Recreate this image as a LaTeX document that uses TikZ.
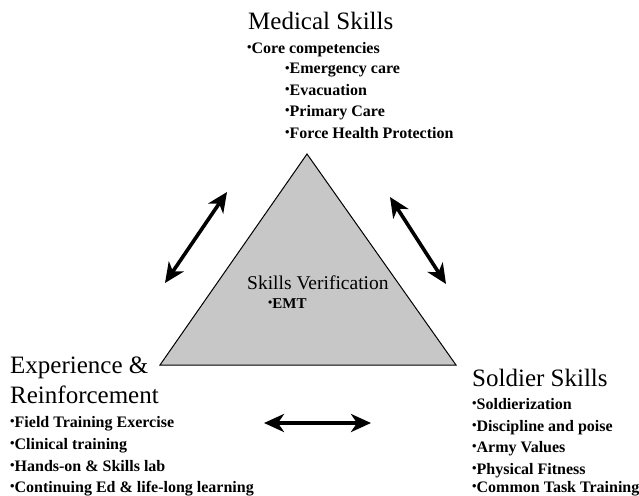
\documentclass[tikz,border=0pt]{standalone}
\usepackage{fontspec}
\usepackage{graphicx}
\setmainfont{Liberation Serif}
\usetikzlibrary{arrows.meta}
\newcommand{\bul}{\raisebox{0.1em}{\scalebox{0.8}{•}}}
\tikzset{
  head/.style={anchor=base west,inner sep=0pt,font=\fontsize{25}{25}\selectfont},
  item/.style={anchor=base west,inner sep=0pt,font=\fontsize{16}{16}\selectfont\bfseries},
  dbl/.style={line width=3.6pt,{Stealth[length=20pt,width=18pt,inset=6pt]}-{Stealth[length=20pt,width=18pt,inset=6pt]}},
  tri/.style={draw=black,line width=1pt,fill=black!22}
}
\begin{document}
\begin{tikzpicture}[x=1pt,y=-1pt]
\useasboundingbox (0,0) rectangle (639,495);
% triangle
\coordinate (apex) at (307,154);
\coordinate (bl) at (160,365);
\coordinate (br) at (456,365);
\draw[tri] (apex) -- (bl) -- (br) -- cycle;
\node[anchor=base west,inner sep=0pt,font=\fontsize{19.5}{19.5}\selectfont] (sv) at (247,289) {Skills Verification};
\node[anchor=base west,inner sep=0pt,font=\fontsize{15}{15}\selectfont\bfseries] (emt) at (268,308) {\bul EMT};
% medical
\node[head] (med) at (248,30) {Medical Skills};
\node[item] (m1) at (247,53) {\bul Core competencies};
\node[item] (m2) at (285,74) {\bul Emergency care};
\node[item] (m3) at (285,95) {\bul Evacuation};
\node[item] (m4) at (285,116) {\bul Primary Care};
\node[item] (m5) at (285,138) {\bul Force Health Protection};
% experience
\node[head] (exp1) at (10,373) {Experience \&};
\node[head] (exp2) at (10,403) {Reinforcement};
\node[item] (e1) at (10,427) {\bul Field Training Exercise};
\node[item] (e2) at (10,449) {\bul Clinical training};
\node[item] (e3) at (10,471) {\bul Hands-on \& Skills lab};
\node[item] (e4) at (10,492) {\bul Continuing Ed \& life-long learning};
% soldier
\node[head] (sol) at (472,386) {Soldier Skills};
\node[item] (s1) at (472,409) {\bul Soldierization};
\node[item] (s2) at (472,431) {\bul Discipline and poise};
\node[item] (s3) at (472,452) {\bul Army Values};
\node[item] (s4) at (472,474) {\bul Physical Fitness};
\node[item] (s5) at (472,492) {\bul Common Task Training};
% arrows
\coordinate (la) at (165,283);
\coordinate (lb) at (227,192);
\coordinate (ra) at (390,197);
\coordinate (rb) at (446,284);
\coordinate (ba) at (264,423);
\coordinate (bb) at (371,423);
\draw[dbl] (la) -- (lb);
\draw[dbl] (ra) -- (rb);
\draw[dbl] (ba) -- (bb);
\end{tikzpicture}
\end{document}
